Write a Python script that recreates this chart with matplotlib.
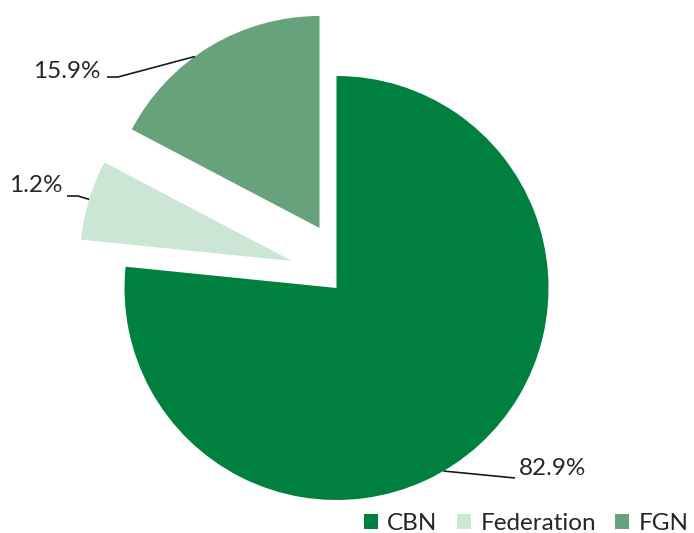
import numpy as np
import matplotlib.pyplot as plt
from matplotlib.patches import Patch

# slice shares as drawn (the printed labels come from the source table)
categories = ['CBN', 'Federation', 'FGN']
slice_share = [76.6, 6.1, 17.3]
pct_labels = ['82.9%', '1.2%', '15.9%']
colors = ['#00803e', '#cce6d6', '#66a27a']

# layout (pixels of the 694x533 canvas)
W, H = 694, 533
cx, cy, R = 336.5, 288, 212
# wedge shift after explosion, in pixels (right, down)
shift_px = [(0, 0), (-44.5, -27), (-17, -60)]
# leader line: angle on the arc, elbow/end points, text anchor
label_angle = [-59.7, 163.1, 126.0]
leader_px = [[(515, 478)], [(78, 196), (67, 196)], [(118, 77), (107, 77)]]
text_px = [(519, 469, 'left'), (63, 186, 'right'), (101, 72, 'right')]


def to_data(px, py):
    return (px - cx) / R, (cy - py) / R


plt.rcParams['font.family'] = ['Lato', 'DejaVu Sans']
text_color = '#262626'

fig = plt.figure(figsize=(W / 100, H / 100), dpi=100)
ax = fig.add_axes([0, 0, 1, 1])

wedges, _ = ax.pie(slice_share, colors=colors, startangle=90, counterclock=False,
                   radius=1, wedgeprops=dict(linewidth=0))
for w, (dx, dy) in zip(wedges, shift_px):
    w.set_center((dx / R, -dy / R))

for i, w in enumerate(wedges):
    wx, wy = w.center
    a = np.radians(label_angle[i])
    xs = [wx + np.cos(a)]
    ys = [wy + np.sin(a)]
    for p in leader_px[i]:
        x, y = to_data(*p)
        xs.append(x)
        ys.append(y)
    ax.plot(xs, ys, color='#1a1a1a', lw=1.2, solid_capstyle='butt')
    tx, ty = to_data(text_px[i][0], text_px[i][1])
    ax.text(tx, ty, pct_labels[i], ha=text_px[i][2], va='center',
            fontsize=17.5, color=text_color)

ax.set_xlim(-cx / R, (W - cx) / R)
ax.set_ylim(-(H - cy) / R, cy / R)
ax.set_aspect('equal')
ax.axis('off')

handles = [Patch(facecolor=c, edgecolor='none') for c in colors]
fig.legend(handles, categories, loc='lower right', bbox_to_anchor=(1.006, -0.02),
           ncol=3, frameon=False, fontsize=17.5, handlelength=0.55, handleheight=0.55,
           handletextpad=0.4, columnspacing=0.8, borderaxespad=0.0,
           labelcolor=text_color)

fig.savefig('out.png', dpi=100)
